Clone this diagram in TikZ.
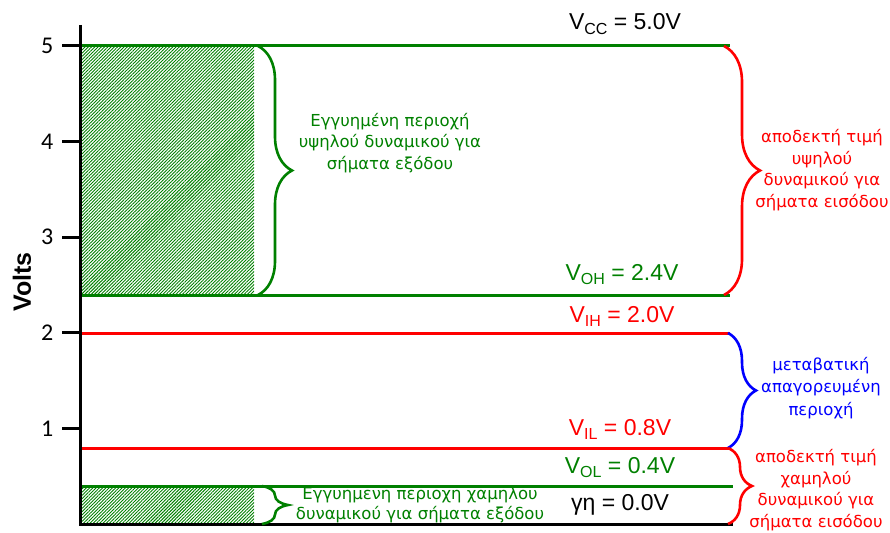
\documentclass[tikz,border=0pt]{standalone}
\usepackage{fontspec}
\setmainfont{Liberation Sans}
\newfontfamily\notefont{DejaVu Sans}
\newfontfamily\tickfont{Carlito}
\usetikzlibrary{decorations.pathreplacing, patterns.meta, positioning}
\definecolor{ttlgreen}{RGB}{0,128,0}
\definecolor{ttlred}{RGB}{255,0,0}
\definecolor{ttlblue}{RGB}{0,0,255}
% level label: V with a lowered index
\newcommand{\lvl}[2]{V\raisebox{-0.4ex}{\fontsize{16}{16}\selectfont #1} = #2}

\begin{document}
\begin{tikzpicture}[x=1pt, y=-1pt,
  level/.style={line width=3pt},
  curly/.style={line width=2.6pt, decorate, decoration={brace, amplitude=#1}},
  hatch/.style={pattern={Lines[angle=45, distance=2.3pt, line width=0.9pt]}, pattern color=ttlgreen},
  value/.style={anchor=base, font=\fontsize{23}{27}\selectfont},
  note/.style={align=center, font=\notefont\fontsize{16.5}{21.5}\selectfont}]
  \useasboundingbox (0,0) rectangle (890,532);
  \clip (0,0) rectangle (890,532);

  % guaranteed output regions
  \fill[hatch] (82,46) rectangle (254,295);
  \fill[hatch] (82,486) rectangle (254,524);

  % level lines
  \draw[level, ttlgreen] (80,46) -- (730,46);
  \draw[level, ttlgreen] (80,295) -- (730,295);
  \draw[level, ttlred] (80,333) -- (730,333);
  \draw[level, ttlred] (80,448) -- (730,448);
  \draw[level, ttlgreen] (80,486) -- (733,486);

  % axis with ticks
  \draw[level, black] (80,25) -- (80,524) -- (733,524);
  \foreach \v in {1,...,5}
    \draw[level, black] (62,{524-95.6*\v}) -- (80,{524-95.6*\v})
      node[pos=0, left=4pt, font=\tickfont\fontsize{24}{24}\selectfont] {\v};
  \node[rotate=90, font=\bfseries\fontsize{25}{25}\selectfont] (volts) at (22,282) {Volts};

  % braces
  \coordinate (oh top) at (258,46);
  \coordinate (oh bot) at (258,295);
  \coordinate (ol top) at (262,486);
  \coordinate (ol bot) at (262,524);
  \coordinate (ih top) at (724,46);
  \coordinate (ih bot) at (724,295);
  \coordinate (tr top) at (728,333);
  \coordinate (tr bot) at (728,448);
  \coordinate (il bot) at (728,524);
  \draw[curly=34, ttlgreen] (oh top) -- (oh bot);
  \draw[curly=26, ttlgreen] (ol top) -- (ol bot);
  \draw[curly=36, ttlred] (ih top) -- (ih bot);
  \draw[curly=28, ttlblue] (tr top) -- (tr bot);
  \draw[curly=24, ttlred] (tr bot) -- (il bot);

  % level values
  \node[value] (vcc) at (625,30) {\lvl{CC}{5.0V}};
  \node[value, ttlgreen] (voh) at (622,280) {\lvl{OH}{2.4V}};
  \node[value, ttlred] (vih) at (622,322) {\lvl{IH}{2.0V}};
  \node[value, ttlred] (vil) at (620,435) {\lvl{IL}{0.8V}};
  \node[value, ttlgreen] (vol) at (620,473) {\lvl{OL}{0.4V}};
  \node[value] (gnd) at (620,510) {γη = 0.0V};

  % region notes
  \node[note, ttlgreen] (oh note) at (390,143) {Εγγυημένη περιοχή\\υψηλού δυναμικού για\\σήματα εξόδου};
  \node[note, ttlgreen, font=\notefont\fontsize{16.5}{20}\selectfont] (ol note) at (420,505) {Εγγυημενη περιοχη χαμηλου\\δυναμικού για σήματα εξόδου};
  \node[note, ttlred] (ih note) at (822,170) {αποδεκτή τιμή\\υψηλού\\δυναμικού για\\σήματα εισόδου};
  \node[note, ttlblue, font=\notefont\fontsize{16.5}{22.5}\selectfont] (tr note) at (821,388) {μεταβατική\\απαγορευμένη\\περιοχή};
  \node[note, ttlred] (il note) at (816,490) {αποδεκτή τιμή\\χαμηλού\\δυναμικού για\\σήματα εισόδου};
\end{tikzpicture}
\end{document}
